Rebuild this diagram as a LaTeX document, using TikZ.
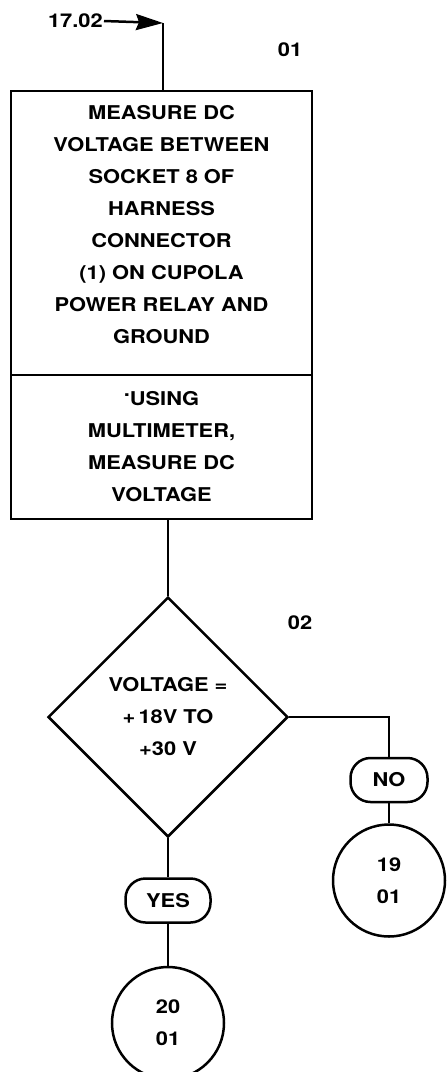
\documentclass[tikz,border=0pt]{standalone}
\usepackage{fontspec}
\setmainfont[FakeStretch=1.15]{TeX Gyre Heros}
\usetikzlibrary{arrows.meta,positioning,shapes.geometric}

\begin{document}
\begin{tikzpicture}[
  x=1pt,y=-1pt,
  font=\fontsize{19}{32}\selectfont\bfseries,
  >={Stealth[length=27pt,width=16pt,inset=3pt]},
  line width=2.5pt,
  stepbox/.style={draw,minimum width=301pt,inner sep=0pt,align=center},
  test/.style={draw,diamond,minimum width=240pt,minimum height=240pt,inner sep=0pt,align=center},
  answer/.style={draw,rounded corners=20pt,minimum height=44pt,inner sep=0pt},
  ref/.style={draw,circle,minimum size=112pt,inner sep=0pt,align=center},
  tag/.style={inner sep=0pt}
]
\useasboundingbox (0,0) rectangle (447,1072);

\node[tag,anchor=east] (entry) at (104,21) {17.02};
\coordinate (bend) at (163,23);
\node[tag] (n01) at (290,50) {01};

\node[stepbox,minimum height=284pt,text depth=17pt] (act) at (161.5,233)
  {MEASURE DC\\VOLTAGE BETWEEN\\SOCKET 8 OF\\HARNESS\\CONNECTOR\\(1) ON CUPOLA\\POWER RELAY AND\\GROUND};
\node[stepbox,minimum height=144pt,below=-2.5pt of act] (how)
  {\raisebox{0.9ex}{.}USING\\MULTIMETER,\\MEASURE DC\\VOLTAGE};

\node[test] (chk) at (168,717) {VOLTAGE =\\+\,18V TO\\+30 V};
\node[tag] (n02) at (300,623) {02};

\node[answer,minimum width=77pt] (no) at (389,780) {NO};
\node[ref,below=20pt of no] (c19) {19\\01};

\node[answer,minimum width=85pt,below=39pt of chk] (yes) {YES};
\node[ref,below=42pt of yes] (c20) {20\\01};

\draw[->] (entry.east) -- (bend);
\draw (bend) -- (bend |- act.north);
\draw (how.south -| chk.north) -- (chk.north);
\draw (chk.east) -| (no.north);
\draw (no.south) -- (c19.north);
\draw (chk.south) -- (yes.north);
\draw (yes.south) -- (c20.north);

\end{tikzpicture}
\end{document}
